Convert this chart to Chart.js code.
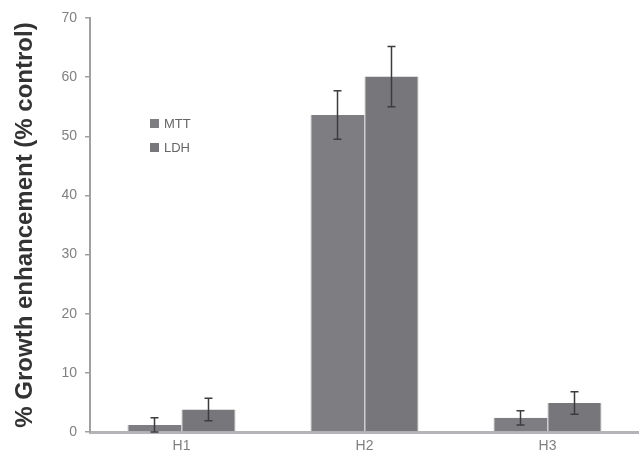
<!DOCTYPE html>
<html>
<head>
<meta charset="utf-8">
<script src="https://cdn.jsdelivr.net/npm/chart.js"></script>
<style>
  html, body { margin: 0; padding: 0; background: #fff; }
  #growth { display: block; }
</style>
</head>
<body>
<canvas id="growth" width="639" height="456"></canvas>
<script>
// treatments and assay results (% of control)
const groups = ['H1', 'H2', 'H3'];
const mttValues = [1.2, 53.6, 2.4];
const mttErrors = [1.2, 4.1, 1.2];
const ldhValues = [3.8, 60.1, 4.9];
const ldhErrors = [1.9, 5.1, 1.9];
const yTicks = [0, 10, 20, 30, 40, 50, 60, 70];

// whiskers drawn from each bar's value +/- its error
const errorBars = {
  id: 'errorBars',
  afterDatasetsDraw(chart) {
    const ctx = chart.ctx;
    const y = chart.scales.y;
    chart.data.datasets.forEach(function(ds, i) {
      const meta = chart.getDatasetMeta(i);
      meta.data.forEach(function(bar, j) {
        const v = ds.data[j];
        const e = ds.errors[j];
        const top = y.getPixelForValue(v + e);
        const bottom = y.getPixelForValue(Math.max(0, v - e));
        ctx.save();
        ctx.strokeStyle = '#3c3c40';
        ctx.lineWidth = 1.5;
        ctx.beginPath();
        ctx.moveTo(bar.x, top);
        ctx.lineTo(bar.x, bottom);
        ctx.moveTo(bar.x - 4, top);
        ctx.lineTo(bar.x + 4, top);
        ctx.moveTo(bar.x - 4, bottom);
        ctx.lineTo(bar.x + 4, bottom);
        ctx.stroke();
        ctx.restore();
      });
    });
  }
};

// small legend inside the plot, upper left
const insetLegend = {
  id: 'insetLegend',
  afterDraw(chart) {
    const ctx = chart.ctx;
    ctx.save();
    ctx.font = '13px "Liberation Sans", Arial, sans-serif';
    ctx.textBaseline = 'middle';
    chart.data.datasets.forEach(function(ds, i) {
      const top = 119 + i * 24;
      ctx.fillStyle = ds.backgroundColor;
      ctx.fillRect(150, top, 9, 9);
      ctx.fillStyle = '#666';
      ctx.fillText(ds.label, 164, top + 5);
    });
    ctx.restore();
  }
};

new Chart(document.getElementById('growth'), {
  type: 'bar',
  data: {
    labels: groups,
    datasets: [{
      label: 'MTT',
      data: mttValues,
      errors: mttErrors,
      backgroundColor: '#7e7e82',
      borderColor: '#a9a9ad',
      borderWidth: { left: 1, right: 0, top: 0, bottom: 0 }
    }, {
      label: 'LDH',
      data: ldhValues,
      errors: ldhErrors,
      backgroundColor: '#77777b',
      borderColor: '#a9a9ad',
      borderWidth: { left: 1, right: 1, top: 0, bottom: 0 }
    }]
  },
  options: {
    responsive: false,
    animation: false,
    layout: { padding: { top: 18, right: 0, left: 0, bottom: 0 } },
    datasets: {
      bar: { barPercentage: 1.0, categoryPercentage: 0.59 }
    },
    plugins: {
      legend: { display: false },
      tooltip: { enabled: false }
    },
    scales: {
      x: {
        afterFit(scale) { scale.height = 24; },
        grid: { display: false, drawTicks: false },
        border: { color: '#b4b4b8', width: 3 },
        ticks: {
          color: '#808080',
          padding: 6,
          font: { family: '"Liberation Sans", Arial, sans-serif', size: 14 }
        }
      },
      y: {
        min: 0,
        max: 70,
        afterFit(scale) { scale.width = 90; },
        afterBuildTicks(scale) {
          scale.ticks = yTicks.map(function(v) { return { value: v }; });
        },
        grid: {
          drawOnChartArea: false,
          tickLength: 5,
          color: '#a0a0a4',
          lineWidth: 1.5
        },
        border: { color: '#a0a0a4', width: 2 },
        ticks: {
          color: '#808080',
          padding: 8,
          font: { family: '"Liberation Sans", Arial, sans-serif', size: 14 }
        },
        title: {
          display: true,
          text: '% Growth enhancement (% control)',
          color: '#333',
          padding: { top: 11, bottom: 0 },
          font: { family: '"Liberation Sans", Arial, sans-serif', size: 24, weight: 'bold' }
        }
      }
    }
  },
  plugins: [errorBars, insetLegend]
});
</script>
</body>
</html>
